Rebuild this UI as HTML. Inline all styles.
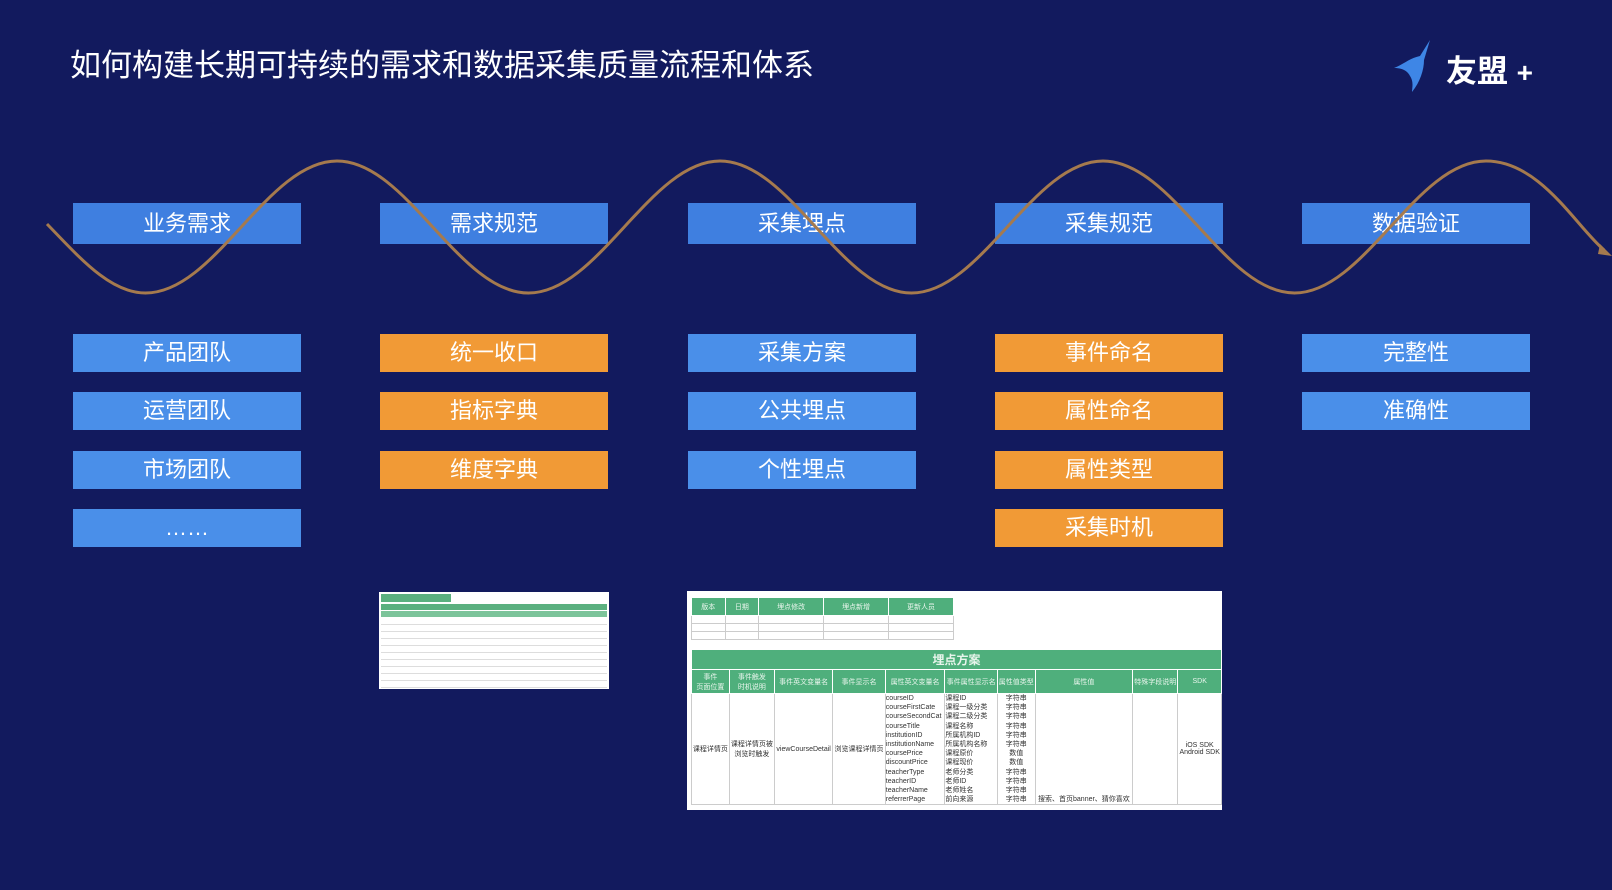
<!DOCTYPE html>
<html><head><meta charset="utf-8"><style>
body{margin:0;width:1612px;height:890px;background:#121a5e;overflow:hidden;position:relative;font-family:"Liberation Sans","Noto Sans CJK SC",sans-serif;}
.t{position:absolute;left:70px;top:40px;color:#fff;font-size:31px;}
.b{position:absolute;width:228px;height:38px;line-height:38px;text-align:center;color:#fff;font-size:22px;}
.bl{background:#4a8fe9}.or{background:#f19a36}.hd{height:41px;line-height:41px;background:#3f7fe0}
table{border-collapse:collapse;font-size:7px;color:#333}
td{border:1px solid #ccc;text-align:center;padding:0}
.g td{background:#4faf7c;color:#e8f5ec;border-color:#fff}
</style></head><body>
<div class="t">如何构建长期可持续的需求和数据采集质量流程和体系</div>
<svg style="position:absolute;left:1390px;top:38px" width="60" height="56" viewBox="0 0 60 56"><path d="M40 2 L30 18 C20 20 14 26 4 30 C14 30 18 34 20 38 C24 44 22 50 22 54 C30 44 34 32 34 22 Z" fill="#3e86e6"/></svg>
<div style="position:absolute;left:1446px;top:46px;color:#fff;font-size:31px;font-weight:bold">友盟 <span style="font-size:28px">+</span></div>

<div class="b hd" style="left:73px;top:203px">业务需求</div>
<div class="b hd" style="left:380px;top:203px">需求规范</div>
<div class="b hd" style="left:688px;top:203px">采集埋点</div>
<div class="b hd" style="left:995px;top:203px">采集规范</div>
<div class="b hd" style="left:1302px;top:203px">数据验证</div>

<div class="b bl" style="left:73px;top:334px">产品团队</div>
<div class="b bl" style="left:73px;top:392px">运营团队</div>
<div class="b bl" style="left:73px;top:451px">市场团队</div>
<div class="b bl" style="left:73px;top:509px">……</div>
<div class="b or" style="left:380px;top:334px">统一收口</div>
<div class="b or" style="left:380px;top:392px">指标字典</div>
<div class="b or" style="left:380px;top:451px">维度字典</div>
<div class="b bl" style="left:688px;top:334px">采集方案</div>
<div class="b bl" style="left:688px;top:392px">公共埋点</div>
<div class="b bl" style="left:688px;top:451px">个性埋点</div>
<div class="b or" style="left:995px;top:334px">事件命名</div>
<div class="b or" style="left:995px;top:392px">属性命名</div>
<div class="b or" style="left:995px;top:451px">属性类型</div>
<div class="b or" style="left:995px;top:509px">采集时机</div>
<div class="b bl" style="left:1302px;top:334px">完整性</div>
<div class="b bl" style="left:1302px;top:392px">准确性</div>

<svg style="position:absolute;left:0;top:0" width="1612" height="890">
<path d="M47 224 C80 258 110 293 145.5 293 C215.5 293 267 161 337 161 S458.5 293 528.5 293 S650 161 720 161 S841.5 293 911.5 293 S1033 161 1103 161 S1224.5 293 1294.5 293 S1416 161 1486 161 C1540 161 1575 225 1604 250" fill="none" stroke="#a57a4e" stroke-width="3"/>
<path d="M1612 256 L1600 244 L1598 254 Z" fill="#a57a4e"/>
</svg>

<div style="position:absolute;left:379px;top:592px;width:230px;height:97px;background:#fff;overflow:hidden">
<div style="height:8px;width:70px;background:#5bb07f;margin:2px 2px"></div>
<div style="height:6px;background:#5bb07f;margin:0 2px"></div>
<div style="height:6px;background:#7cc49a;margin:1px 2px"></div>
<div style="margin:0 2px;height:70px;background:repeating-linear-gradient(#fff 0 6px,#ddd 6px 7px)"></div>
</div>

<div style="position:absolute;left:687px;top:591px;width:535px;height:219px;background:#fff;overflow:hidden">
<table style="position:absolute;left:4px;top:6px;width:263px">
<tr class="g" style="height:18px"><td>版本</td><td>日期</td><td>埋点修改</td><td>埋点新增</td><td>更新人员</td></tr>
<tr style="height:8px"><td></td><td></td><td></td><td></td><td></td></tr>
<tr style="height:8px"><td></td><td></td><td></td><td></td><td></td></tr>
<tr style="height:8px"><td></td><td></td><td></td><td></td><td></td></tr>
</table>
<table style="position:absolute;left:4px;top:58px;width:531px">
<tr class="g" style="height:20px"><td colspan="10" style="font-size:12px;font-weight:bold">埋点方案</td></tr>
<tr class="g" style="height:24px"><td>事件<br>页面位置</td><td>事件触发<br>时机说明</td><td>事件英文变量名</td><td>事件显示名</td><td>属性英文变量名</td><td>事件属性显示名</td><td>属性值类型</td><td>属性值</td><td>特殊字段说明</td><td>SDK</td></tr>
<tr style="height:111px"><td>课程详情页</td><td>课程详情页被<br>浏览时触发</td><td>viewCourseDetail</td><td>浏览课程详情页</td>
<td style="text-align:left;line-height:9.2px">courseID<br>courseFirstCate<br>courseSecondCat<br>courseTitle<br>institutionID<br>institutionName<br>coursePrice<br>discountPrice<br>teacherType<br>teacherID<br>teacherName<br>referrerPage</td>
<td style="text-align:left;line-height:9.2px">课程ID<br>课程一级分类<br>课程二级分类<br>课程名称<br>所属机构ID<br>所属机构名称<br>课程原价<br>课程现价<br>老师分类<br>老师ID<br>老师姓名<br>前向来源</td>
<td style="line-height:9.2px">字符串<br>字符串<br>字符串<br>字符串<br>字符串<br>字符串<br>数值<br>数值<br>字符串<br>字符串<br>字符串<br>字符串</td>
<td style="vertical-align:bottom">搜索、首页banner、猜你喜欢</td><td></td><td>iOS SDK<br>Android SDK</td></tr>
</table>
</div>
</body></html>
